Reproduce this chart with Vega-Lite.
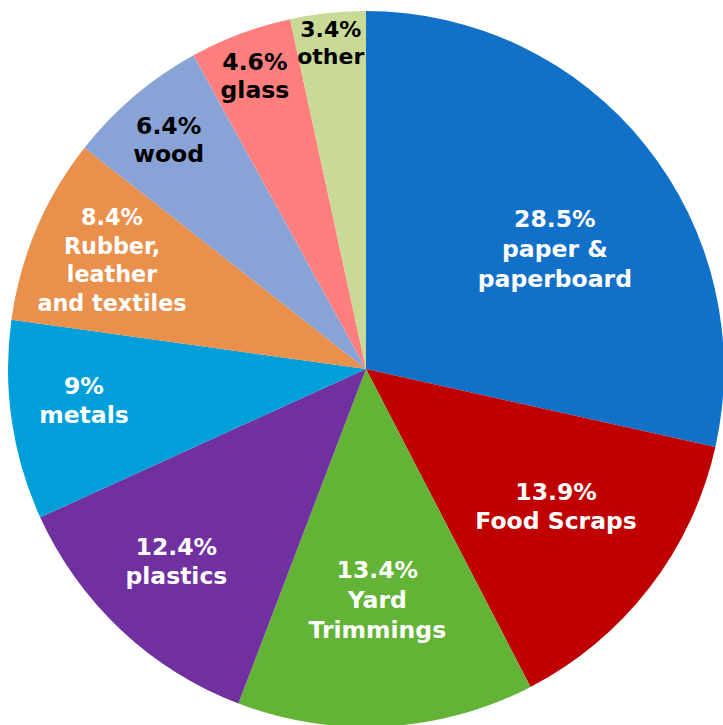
{
  "$schema": "https://vega.github.io/schema/vega-lite/v6.json",
  "width": 714,
  "height": 712,
  "autosize": {"type": "none"},
  "padding": {"left": 9, "top": 13, "right": 0, "bottom": 0},
  "background": "white",
  "config": {"view": {"stroke": null}},
  "data": {
    "values": [
      {"category": "paper &\npaperboard", "value": 28.5},
      {"category": "Food Scraps", "value": 13.9},
      {"category": "Yard\nTrimmings", "value": 13.4},
      {"category": "plastics", "value": 12.4},
      {"category": "metals", "value": 9},
      {"category": "Rubber,\nleather\nand textiles", "value": 8.4},
      {"category": "wood", "value": 6.4},
      {"category": "glass", "value": 4.6},
      {"category": "other", "value": 3.4}
    ]
  },
  "transform": [
    {"calculate": "datum.value + '%\\n' + datum.category", "as": "label"}
  ],
  "encoding": {
    "theta": {"field": "value", "type": "quantitative", "stack": true},
    "order": {"field": "value", "type": "quantitative", "sort": "descending"}
  },
  "layer": [
    {
      "mark": {"type": "arc", "outerRadius": 358},
      "encoding": {
        "color": {
          "field": "category",
          "type": "nominal",
          "legend": null,
          "scale": {
            "domain": ["paper &\npaperboard", "Food Scraps", "Yard\nTrimmings", "plastics", "metals", "Rubber,\nleather\nand textiles", "wood", "glass", "other"],
            "range": ["#1170C8", "#C00000", "#62B336", "#7030A0", "#009FDA", "#E8904C", "#8AA3D6", "#FF7F7F", "#C9D996"]
          }
        }
      }
    },
    {
      "mark": {"type": "text", "font": "DejaVu Sans", "fontWeight": "bold", "fontSize": 23.5, "lineHeight": 29, "dy": -23, "lineBreak": "\n", "align": "center", "baseline": "middle"},
      "encoding": {
        "text": {"condition": {"test": "split(datum.label, '\\n').length == 2 && datum.value >= 7", "field": "label"}, "value": ""},
        "radius": {"field": "value", "type": "quantitative", "scale": {"type": "linear", "zero": false, "domain": [3.4, 4.6, 6.4, 8.4, 9, 12.4, 13.4, 13.9, 28.5], "range": [331, 317, 305, 276, 285, 277, 200, 240, 242]}},
        "color": {"value": "white"}
      }
    },
    {
      "mark": {"type": "text", "font": "DejaVu Sans", "fontWeight": "bold", "fontSize": 23.5, "lineHeight": 27.5, "dy": -9, "lineBreak": "\n", "align": "center", "baseline": "middle"},
      "encoding": {
        "text": {"condition": {"test": "datum.value >= 4 && datum.value < 7", "field": "label"}, "value": ""},
        "radius": {"field": "value", "type": "quantitative", "scale": {"type": "linear", "zero": false, "domain": [3.4, 4.6, 6.4, 8.4, 9, 12.4, 13.4, 13.9, 28.5], "range": [331, 317, 305, 276, 285, 277, 200, 240, 242]}},
        "color": {"value": "black"}
      }
    },
    {
      "mark": {"type": "text", "font": "DejaVu Sans", "fontWeight": "bold", "fontSize": 22, "lineHeight": 27, "dy": -9.5, "lineBreak": "\n", "align": "center", "baseline": "middle"},
      "encoding": {
        "text": {"condition": {"test": "datum.value < 4", "field": "label"}, "value": ""},
        "radius": {"field": "value", "type": "quantitative", "scale": {"type": "linear", "zero": false, "domain": [3.4, 4.6, 6.4, 8.4, 9, 12.4, 13.4, 13.9, 28.5], "range": [331, 317, 305, 276, 285, 277, 200, 240, 242]}},
        "color": {"value": "black"}
      }
    },
    {
      "mark": {"type": "text", "font": "DejaVu Sans", "fontWeight": "bold", "fontSize": 23.5, "lineHeight": 30, "dy": 2, "lineBreak": "\n", "align": "center", "baseline": "middle"},
      "encoding": {
        "text": {"condition": {"test": "split(datum.label, '\\n').length == 3", "field": "label"}, "value": ""},
        "radius": {"field": "value", "type": "quantitative", "scale": {"type": "linear", "zero": false, "domain": [3.4, 4.6, 6.4, 8.4, 9, 12.4, 13.4, 13.9, 28.5], "range": [331, 317, 305, 276, 285, 277, 200, 240, 242]}},
        "color": {"value": "white"}
      }
    },
    {
      "mark": {"type": "text", "font": "DejaVu Sans", "fontWeight": "bold", "fontSize": 22.3, "lineHeight": 28.7, "dy": -43, "lineBreak": "\n", "align": "center", "baseline": "middle"},
      "encoding": {
        "text": {"condition": {"test": "split(datum.label, '\\n').length == 4", "field": "label"}, "value": ""},
        "radius": {"field": "value", "type": "quantitative", "scale": {"type": "linear", "zero": false, "domain": [3.4, 4.6, 6.4, 8.4, 9, 12.4, 13.4, 13.9, 28.5], "range": [331, 317, 305, 276, 285, 277, 200, 240, 242]}},
        "color": {"value": "white"}
      }
    }
  ]
}
